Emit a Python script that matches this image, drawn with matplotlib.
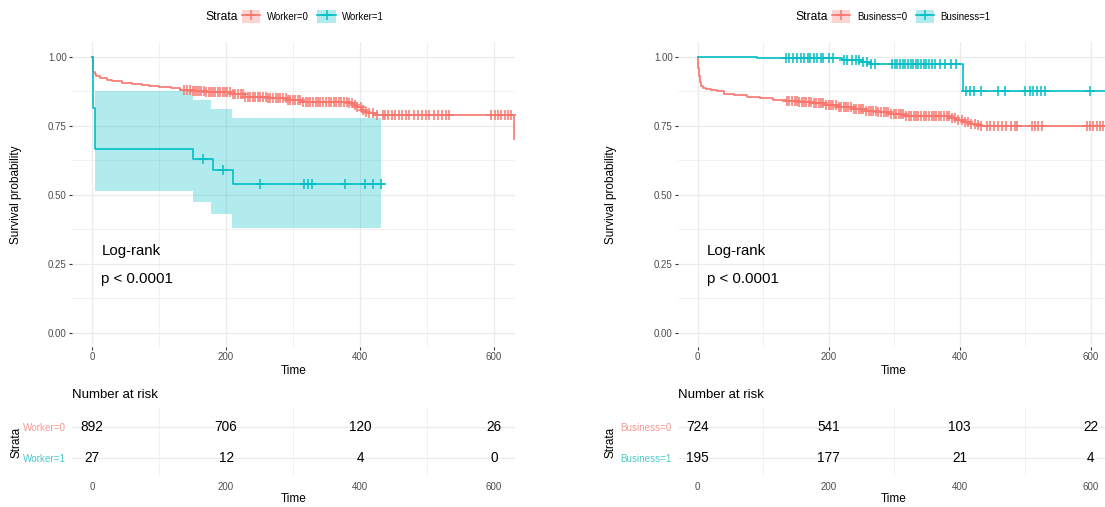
import matplotlib
matplotlib.use("Agg")
import matplotlib.pyplot as plt
import numpy as np
from matplotlib.lines import Line2D
from matplotlib.patches import Patch
from matplotlib.ticker import FixedLocator

plt.rcParams['font.family'] = ['Liberation Sans', 'DejaVu Sans']

RED = '#F8766D'
TEAL = '#00BFC4'
RED_LBL = '#F29A93'
TEAL_LBL = '#4CC8CB'
GRID = '#EBEBEB'
TICKLBL = '#4D4D4D'

# ---- Worker panel data ----
w0_time = [0, 1, 2, 4, 6, 12, 22, 30, 45, 60, 75, 85, 100, 118, 132, 150, 170, 187,
           208, 229, 261, 292, 313, 334, 381, 390, 396, 402, 408, 414, 422, 630]
w0_surv = [1.0, 0.955, 0.945, 0.937, 0.929, 0.922, 0.916, 0.912, 0.907, 0.903, 0.899,
           0.894, 0.890, 0.886, 0.881, 0.877, 0.874, 0.871, 0.865, 0.856, 0.850, 0.844,
           0.838, 0.836, 0.834, 0.826, 0.817, 0.808, 0.800, 0.795, 0.791, 0.703]
w0_cens = [138, 142, 146, 150, 153, 157, 160, 163, 167, 170, 174, 177, 180, 184, 188,
           191, 195, 198, 202, 206, 210, 214, 218, 222, 225, 229, 233, 236, 240, 244,
           247, 251, 255, 259, 262, 266, 270, 274, 277, 281, 285, 289, 292, 296, 300,
           303, 307, 311, 315, 319, 322, 326, 330, 334, 338, 341, 345, 349, 353, 357,
           361, 364, 368, 372, 376, 380, 384, 388, 392, 396, 401, 405, 409, 414, 419,
           425, 434, 438, 442, 447, 452, 458, 463, 468, 473, 481, 486, 492, 498, 503,
           510, 516, 522, 528, 533, 596, 601, 606, 611, 616, 621, 625]

w1_time = [0, 1, 4, 150, 180, 210, 436]
w1_surv = [1.0, 0.815, 0.667, 0.630, 0.590, 0.540, 0.540]
w1_cens = [165, 196, 250, 317, 323, 328, 377, 407, 420, 431]
w1_ci_time = [4, 150, 178, 209, 432]
w1_ci_low = [0.514, 0.472, 0.432, 0.379, 0.379]
w1_ci_high = [0.877, 0.844, 0.811, 0.778, 0.778]

# ---- Business panel data ----
b0_time = [0, 1, 2, 3, 5, 8, 12, 20, 30, 40, 55, 75, 95, 115, 135, 155, 175, 195,
           215, 235, 255, 275, 295, 315, 370, 385, 395, 405, 415, 425, 432, 630]
b0_surv = [1.0, 0.96, 0.93, 0.91, 0.895, 0.887, 0.882, 0.879, 0.875, 0.866, 0.862,
           0.856, 0.850, 0.845, 0.840, 0.836, 0.831, 0.825, 0.818, 0.811, 0.805, 0.799,
           0.792, 0.787, 0.785, 0.778, 0.770, 0.763, 0.757, 0.752, 0.748, 0.748]
b0_cens = [136, 140, 144, 148, 151, 155, 159, 162, 166, 170, 173, 177, 181, 185, 188,
           192, 196, 200, 204, 207, 211, 215, 219, 223, 226, 230, 234, 238, 242, 246,
           249, 253, 257, 261, 265, 268, 272, 276, 280, 284, 288, 291, 295, 299, 303,
           307, 311, 314, 318, 322, 326, 330, 334, 337, 341, 345, 349, 353, 357, 360,
           364, 368, 372, 376, 380, 384, 388, 393, 398, 403, 408, 413, 418, 423, 428,
           433, 442, 447, 452, 458, 464, 470, 478, 484, 488, 510, 515, 520, 525, 594,
           599, 604, 609, 614, 619]

b1_time = [0, 90, 221, 250, 263, 405, 630]
b1_surv = [1.0, 0.996, 0.990, 0.983, 0.975, 0.878, 0.878]
b1_cens = [135, 140, 146, 151, 157, 163, 168, 172, 177, 182, 188, 192, 200, 206, 223,
           228, 236, 241, 246, 252, 258, 264, 270, 297, 301, 305, 309, 313, 317, 321,
           325, 329, 333, 337, 341, 345, 349, 353, 357, 363, 370, 378, 386, 394, 410,
           416, 422, 432, 459, 469, 500, 507, 512, 518, 524, 530, 599]

risk_times = [0, 200, 400, 600]
w0_risk = [892, 706, 120, 26]
w1_risk = [27, 12, 4, 0]
b0_risk = [724, 541, 103, 22]
b1_risk = [195, 177, 21, 4]

W, H = 1105, 507
fig = plt.figure(figsize=(W / 100, H / 100), dpi=100)


def box(x0, x1, y0, y1):
    # pixel box (y measured from the top) -> figure fraction
    return [x0 / W, 1 - y1 / H, (x1 - x0) / W, (y1 - y0) / H]


def value_at(times, surv, t):
    idx = np.searchsorted(times, t, side='right') - 1
    return np.asarray(surv)[idx]


panels = [
    dict(name='Worker', x0=72, x1=515, xlim=(-29.85, 631.3), lab_x=16, cx=293.5,
         curves=[(w0_time, w0_surv, w0_cens, RED), (w1_time, w1_surv, w1_cens, TEAL)],
         ci=(w1_ci_time, w1_ci_low, w1_ci_high),
         risk=(w0_risk, w1_risk), leg_x=205),
    dict(name='Business', x0=678, x1=1111, xlim=(-30.1, 631.0), lab_x=611, cx=894,
         curves=[(b0_time, b0_surv, b0_cens, RED), (b1_time, b1_surv, b1_cens, TEAL)],
         ci=None,
         risk=(b0_risk, b1_risk), leg_x=795),
]

for p in panels:
    ax = fig.add_axes(box(p['x0'], p['x1'], 42, 347))
    ax.set_xlim(*p['xlim'])
    ax.set_ylim(-0.052, 1.054)
    for s in ax.spines.values():
        s.set_visible(False)
    ax.set_xticks([0, 200, 400, 600])
    ax.set_yticks([0, 0.25, 0.5, 0.75, 1.0])
    ax.set_yticklabels(['0.00', '0.25', '0.50', '0.75', '1.00'])
    ax.xaxis.set_minor_locator(FixedLocator([100, 300, 500]))
    ax.yaxis.set_minor_locator(FixedLocator([0.125, 0.375, 0.625, 0.875]))
    ax.grid(which='major', color=GRID, lw=0.9)
    ax.grid(which='minor', color=GRID, lw=0.5)
    ax.set_axisbelow(True)
    ax.tick_params(which='major', length=2.2, width=0.8, color='#333333',
                   labelsize=7, labelcolor=TICKLBL, pad=1.5)
    ax.tick_params(which='minor', length=0)

    if p['ci'] is not None:
        ct, lo, hi = p['ci']
        ax.fill_between(ct, lo, hi, step='post', color=TEAL, alpha=0.3, lw=0)

    for times, surv, cens, col in p['curves']:
        ax.plot(times, surv, drawstyle='steps-post', color=col, lw=1.2)
        ax.plot(cens, value_at(times, surv, cens), ls='none', marker='+',
                ms=7, mew=1.1, color=col)

    ax.text(14, 0.296, 'Log-rank', fontsize=10.8, va='center', ha='left')
    ax.text(14, 0.194, 'p < 0.0001', fontsize=10.8, va='center', ha='left')

    fig.text(p['cx'] / W, 1 - 370.7 / H, 'Time', fontsize=8.5, ha='center', va='center')
    fig.text(p['lab_x'] / W, 1 - 195 / H, 'Survival probability', fontsize=8.5,
             rotation=90, ha='center', va='center')

    # legend
    fig.text(p['leg_x'] / W, 1 - 16.7 / H, 'Strata', fontsize=8.7, ha='left', va='center')
    handles = []
    for col in (RED, TEAL):
        handles.append((Patch(facecolor=col, alpha=0.3, lw=0),
                        Line2D([], [], color=col, lw=1.2, marker='+', ms=7, mew=1.1)))
    fig.legend(handles, [p['name'] + '=0', p['name'] + '=1'], ncol=2,
               loc='center left', bbox_to_anchor=((p['leg_x'] + 37) / W, 1 - 16.7 / H),
               frameon=False, fontsize=6.9, borderpad=0, borderaxespad=0,
               handlelength=1.9, handleheight=1.8, handletextpad=0.7,
               columnspacing=0.9)

    # risk table
    rax = fig.add_axes(box(p['x0'], p['x1'], 407, 476))
    rax.set_xlim(*p['xlim'])
    rax.set_ylim(0.419, 2.645)
    for s in rax.spines.values():
        s.set_visible(False)
    r0, r1 = p['risk']
    for t, a, b in zip(risk_times, r0, r1):
        rax.text(t, 2, str(a), fontsize=9.8, ha='center', va='center')
        rax.text(t, 1, str(b), fontsize=9.8, ha='center', va='center')
    rax.set_xticks(risk_times)
    rax.xaxis.set_minor_locator(FixedLocator([100, 300, 500]))
    rax.set_yticks([1, 2])
    rax.set_yticklabels([p['name'] + '=1', p['name'] + '=0'])
    for lbl, col in zip(rax.get_yticklabels(), (TEAL_LBL, RED_LBL)):
        lbl.set_color(col)
    rax.grid(which='minor', axis='x', color=GRID, lw=0.5)
    rax.grid(which='major', axis='y', color=GRID, lw=0.9)
    rax.set_axisbelow(True)
    rax.tick_params(axis='x', which='both', length=0, labelsize=7,
                    labelcolor=TICKLBL, pad=4.3)
    rax.tick_params(axis='y', length=0, labelsize=7.1, pad=4.3)
    rax.tick_params(which='minor', length=0)
    fig.text(p['cx'] / W, 1 - 499 / H, 'Time', fontsize=8.5, ha='center', va='center')
    fig.text(p['x0'] / W, 1 - 395 / H, 'Number at risk', fontsize=9.5,
             ha='left', va='center')
    fig.text(p['lab_x'] / W, 1 - 442 / H, 'Strata', fontsize=8.5,
             rotation=90, ha='center', va='center')

fig.savefig('out.png', dpi=100)
